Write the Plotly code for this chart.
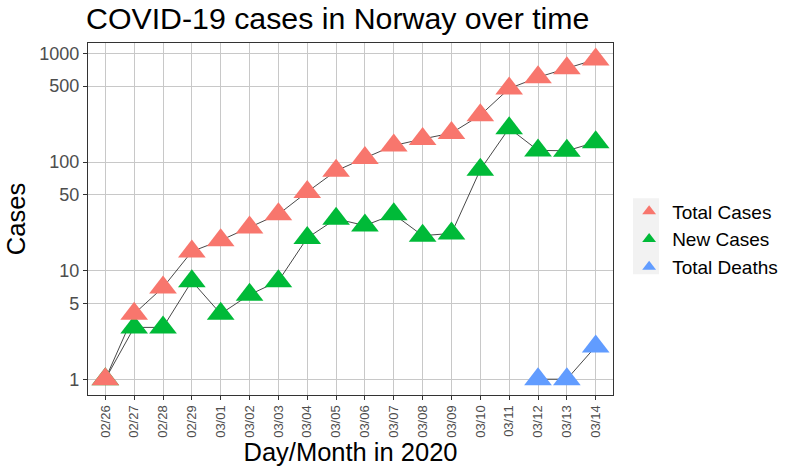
import plotly.graph_objects as go

dates = ["02/26", "02/27", "02/28", "02/29", "03/01", "03/02", "03/03", "03/04", "03/05",
         "03/06", "03/07", "03/08", "03/09", "03/10", "03/11", "03/12", "03/13", "03/14"]
total_cases = [1, 4, 7, 15, 19, 25, 33, 53, 83, 109, 142, 163, 185, 270, 475, 603, 730, 882]
new_cases = [1, 3, 3, 8, 4, 6, 8, 20, 30, 26, 33, 21, 22, 85, 205, 128, 127, 152]
death_dates = ["03/12", "03/13", "03/14"]
total_deaths = [1, 1, 2]
y_ticks = [1, 5, 10, 50, 100, 500, 1000]

colors = {"Total Cases": "#F8766D", "New Cases": "#00BA38", "Total Deaths": "#619CFF"}
series = [
    ("New Cases", dates, new_cases, 2),
    ("Total Cases", dates, total_cases, 1),
    ("Total Deaths", death_dates, total_deaths, 3),
]

fig = go.Figure()
for name, xs, ys, rank in series:
    fig.add_trace(go.Scatter(x=xs, y=ys, mode="lines", showlegend=False, hoverinfo="skip",
                             line=dict(color="#333333", width=0.9)))
for name, xs, ys, rank in series:
    fig.add_trace(go.Scatter(x=xs, y=ys, mode="markers", name=name, legendrank=rank,
                             marker=dict(symbol="triangle-up", size=24, color=colors[name],
                                         line=dict(width=0))))

# grey legend key background (ggplot style)
fig.add_shape(type="rect", xref="paper", yref="paper", x0=1.038, x1=1.0876, y0=0.343, y1=0.559,
              fillcolor="#F2F2F2", line=dict(width=0), layer="below")

fig.update_layout(
    width=800, height=472,
    margin=dict(l=88, r=187, t=43, b=73),
    paper_bgcolor="white", plot_bgcolor="white",
    font=dict(family="Liberation Sans, Arial, sans-serif", color="black"),
    title=dict(text="COVID-19 cases in Norway over time", x=86/800, xref="container",
               xanchor="left", y=0.96, yanchor="middle", yref="container",
               font=dict(size=30.3, color="black")),
    legend=dict(x=1.025, y=0.442, xanchor="left", yanchor="middle", bgcolor="rgba(0,0,0,0)",
                font=dict(size=19, color="black"), tracegroupgap=0, itemsizing="constant",
                itemwidth=36),
    showlegend=True,
)
fig.update_xaxes(
    type="category", categoryorder="array", categoryarray=dates,
    range=[-0.6, 17.6],
    tickangle=-90, tickfont=dict(size=13, color="#4D4D4D"),
    ticks="outside", ticklen=4, tickcolor="#333333",
    showgrid=True, gridcolor="#C8C8C8", gridwidth=1,
    showline=True, linecolor="#333333", linewidth=1.2, mirror=True,
    title=dict(text="Day/Month in 2020", font=dict(size=25.5, color="black"), standoff=4),
    zeroline=False,
)
fig.update_yaxes(
    type="log", range=[-0.1455, 3.0964],
    tickvals=y_ticks, ticktext=[str(v) for v in y_ticks],
    tickfont=dict(size=18, color="#4D4D4D"),
    ticks="outside", ticklen=4, tickcolor="#333333",
    showgrid=True, gridcolor="#C8C8C8", gridwidth=1,
    showline=True, linecolor="#333333", linewidth=1.2, mirror=True,
    title=dict(text="Cases", font=dict(size=25.5, color="black"), standoff=6),
    zeroline=False,
)
fig.write_html("out.html", config={"displayModeBar": False},
               post_script="document.body.style.margin='0';")
